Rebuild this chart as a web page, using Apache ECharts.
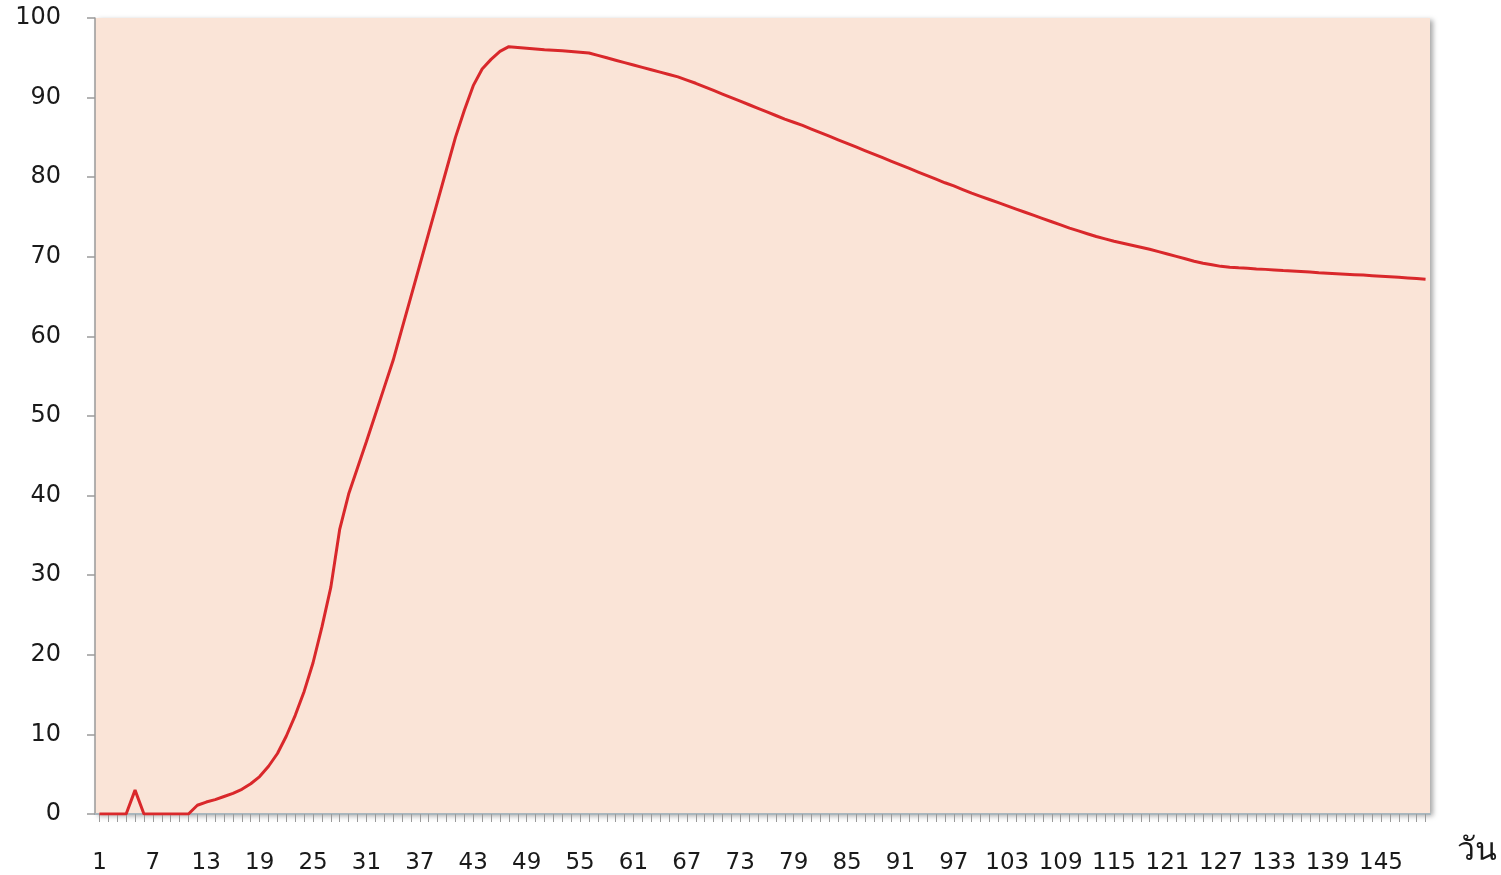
<!DOCTYPE html>
<html>
<head>
<meta charset="utf-8">
<script src="https://cdn.jsdelivr.net/npm/echarts@6/dist/echarts.min.js"></script>
<style>
html,body{margin:0;padding:0;background:#fff;}
#chart{width:1501px;height:875px;}
</style>
</head>
<body>
<div id="chart"></div>
<script>
var days = [];
for (var d = 1; d <= 150; d++) days.push(String(d));

var values = [
  0, 0, 0, 0, 3, 0, 0, 0, 0, 0,
  0, 1.1, 1.5, 1.8, 2.2, 2.6, 3.1, 3.8, 4.7, 6.0,
  7.6, 9.8, 12.4, 15.4, 19.0, 23.5, 28.5, 35.8, 40.2, 43.5,
  46.8, 50.2, 53.6, 57.0, 61.0, 65.0, 69.0, 73.0, 77.0, 81.0,
  85.0, 88.4, 91.5, 93.6, 94.8, 95.8, 96.4, 96.3, 96.2, 96.1,
  96.0, 95.95, 95.9, 95.8, 95.7, 95.6, 95.3, 95.0, 94.7, 94.4,
  94.1, 93.8, 93.5, 93.2, 92.9, 92.6, 92.2, 91.8, 91.35, 90.9,
  90.45, 90.0, 89.55, 89.1, 88.65, 88.2, 87.75, 87.3, 86.9, 86.5,
  86.05, 85.6, 85.15, 84.7, 84.25, 83.8, 83.35, 82.9, 82.45, 82.0,
  81.55, 81.1, 80.65, 80.2, 79.75, 79.3, 78.9, 78.45, 78.0, 77.6,
  77.2, 76.8, 76.4, 76.0, 75.6, 75.2, 74.8, 74.4, 74.0, 73.6,
  73.25, 72.9, 72.55, 72.25, 71.95, 71.7, 71.45, 71.2, 70.95, 70.65,
  70.35, 70.05, 69.75, 69.45, 69.2, 69.0, 68.8, 68.7, 68.62, 68.55,
  68.48, 68.42, 68.35, 68.28, 68.22, 68.15, 68.08, 68.0, 67.94, 67.88,
  67.82, 67.76, 67.7, 67.63, 67.56, 67.49, 67.42, 67.34, 67.26, 67.18
];

var yTicks = { min: 0, max: 100, interval: 10 };
var xAxisName = 'วัน';

var chart = echarts.init(document.getElementById('chart'));
chart.setOption({
  animation: false,
  backgroundColor: '#ffffff',
  grid: {
    left: 95, right: 71, top: 18, bottom: 61,
    show: true,
    backgroundColor: '#fae4d7',
    borderWidth: 0,
    shadowColor: 'rgba(0,0,0,0.35)',
    shadowBlur: 5,
    shadowOffsetX: 3,
    shadowOffsetY: 2
  },
  graphic: [{
    type: 'text',
    left: 1457,
    top: 836,
    style: { text: xAxisName, fontFamily: 'DejaVu Sans, Noto Sans, sans-serif', fontSize: 32, fill: '#1a1a1a' }
  }],
  xAxis: {
    type: 'category',
    data: days,
    boundaryGap: true,
    axisLine: { show: true, lineStyle: { color: '#a9b6bd', width: 2 } },
    axisTick: { show: true, interval: 0, alignWithLabel: true, length: 8, lineStyle: { color: '#9a9a9a', width: 1 } },
    axisLabel: { interval: 5, margin: 38, fontFamily: 'DejaVu Sans', fontSize: 23, color: '#1a1a1a' },
    splitLine: { show: false }
  },
  yAxis: {
    type: 'value',
    min: yTicks.min, max: yTicks.max, interval: yTicks.interval,
    axisLine: { show: true, lineStyle: { color: '#9a9a9a', width: 1.5 } },
    axisTick: { show: true, length: 8, lineStyle: { color: '#9a9a9a', width: 1.5 } },
    axisLabel: { margin: 34, fontFamily: 'DejaVu Sans', fontSize: 24, color: '#1a1a1a' },
    splitLine: { show: false }
  },
  series: [{
    type: 'line',
    data: values,
    symbol: 'none',
    smooth: false,
    lineStyle: { color: '#d9282b', width: 3 }
  }]
});
</script>
</body>
</html>
